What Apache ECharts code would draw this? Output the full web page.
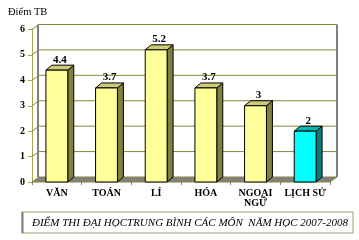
<!DOCTYPE html>
<html><head><meta charset="utf-8">
<script src="https://cdn.jsdelivr.net/npm/echarts@6/dist/echarts.min.js"></script>
<style>html,body{margin:0;padding:0;background:#fff}#c{width:359px;height:240px}</style>
</head><body><div id="c"></div>
<script>
const categories = ['VĂN', 'TOÁN', 'LÍ', 'HÓA', 'NGOẠI\nNGỮ', 'LỊCH SỬ'];
const scores = [4.4, 3.7, 5.2, 3.7, 3, 2];
const yTicks = [0, 1, 2, 3, 4, 5, 6];
const yTitle = 'Điểm TB';
const chartTitle = 'ĐIỂM THI ĐẠI HỌCTRUNG BÌNH CÁC MÔN  NĂM HỌC 2007-2008';

const FONT = '"Liberation Serif", "Times New Roman", serif';
const WDX = 7, WDY = -5;   // wall depth
const BDX = 6, BDY = -5;   // bar depth
const GRIDC = '#86863a';

const chart = echarts.init(document.getElementById('c'), null, {renderer: 'canvas'});

function wallItem(params, api) {
  const cs = params.coordSys;
  const x0 = cs.x, x1 = cs.x + cs.width;
  const ch = [];
  const yBase = api.coord([0, yTicks[0]])[1];
  const yTop = api.coord([0, yTicks[yTicks.length - 1]])[1];
  ch.push({type: 'polygon', shape: {points: [[x0, yBase], [x1, yBase], [x1 + WDX, yBase + WDY], [x0 + WDX, yBase + WDY]]},
    style: {fill: '#808080', stroke: GRIDC, lineWidth: 1}});
  yTicks.forEach(function (v) {
    const y = api.coord([0, v])[1];
    if (v !== yTicks[0]) {
      ch.push({type: 'line', shape: {x1: x0 + WDX, y1: y + WDY, x2: x1 + WDX, y2: y + WDY}, style: {stroke: GRIDC, lineWidth: 1}});
      ch.push({type: 'line', shape: {x1: x0, y1: y, x2: x0 + WDX, y2: y + WDY}, style: {stroke: GRIDC, lineWidth: 1}});
    }
  });
  ch.push({type: 'line', shape: {x1: x0 + WDX - 1, y1: yTop + WDY, x2: x0 + WDX - 1, y2: yBase + WDY}, style: {stroke: '#808080', lineWidth: 2}});
  ch.push({type: 'line', shape: {x1: x1 + WDX, y1: yTop + WDY, x2: x1 + WDX, y2: yBase + WDY}, style: {stroke: '#808080', lineWidth: 2}});
  return {type: 'group', children: ch};
}

function barItem(params, api) {
  const idx = api.value(0), val = api.value(1);
  const p0 = api.coord([idx, 0]);
  const p1 = api.coord([idx, val]);
  const w = api.size([1, 0])[0] * 0.44;
  const cx = p0[0], l = cx - w / 2, r = cx + w / 2;
  const hi = params.dataIndex === categories.length - 1;
  const face = hi ? '#00FFFF' : '#FFFF99';
  const side = hi ? '#008080' : '#808040';
  const top = hi ? '#00B8B8' : '#CCCC77';
  const st = {stroke: '#000', lineWidth: 1};
  return {type: 'group', children: [
    {type: 'polygon', shape: {points: [[r, p1[1]], [r + BDX, p1[1] + BDY], [r + BDX, p0[1] + BDY], [r, p0[1]]]}, style: Object.assign({fill: side}, st)},
    {type: 'polygon', shape: {points: [[l, p1[1]], [l + BDX, p1[1] + BDY], [r + BDX, p1[1] + BDY], [r, p1[1]]]}, style: Object.assign({fill: top}, st)},
    {type: 'rect', shape: {x: l, y: p1[1], width: w, height: p0[1] - p1[1]}, style: Object.assign({fill: face}, st)},
    {type: 'text', x: cx + BDX / 2, y: p1[1] + BDY, style: {text: String(val), fill: '#000', font: 'bold 11px ' + FONT, align: 'center', verticalAlign: 'bottom'}}
  ]};
}

chart.setOption({
  animation: false,
  backgroundColor: '#fff',
  grid: {left: 32, right: 29, top: 29.5, bottom: 58},
  xAxis: {
    type: 'category', data: categories,
    axisLine: {show: false},
    axisTick: {show: true, length: 3, lineStyle: {color: '#808080'}},
    axisLabel: {color: '#000', fontFamily: FONT, fontWeight: 'bold', fontSize: 10, lineHeight: 10, margin: 6, interval: 0}
  },
  yAxis: {
    type: 'value', min: yTicks[0], max: yTicks[yTicks.length - 1], interval: 1,
    axisLine: {show: true, lineStyle: {color: '#a8a850'}},
    axisTick: {show: true, length: 4, lineStyle: {color: '#a8a850'}},
    axisLabel: {color: '#000', fontFamily: FONT, fontWeight: 'bold', fontSize: 10, margin: 7},
    splitLine: {show: false}
  },
  graphic: [
    {type: 'text', left: 8, top: 7, style: {text: yTitle, fill: '#000', font: '10.5px ' + FONT}},
    {type: 'rect', shape: {x: 22, y: 212, width: 331, height: 21}, style: {fill: '#fff', stroke: '#a0a070', lineWidth: 1}},
    {type: 'line', shape: {x1: 22.5, y1: 212, x2: 22.5, y2: 233}, style: {stroke: '#808080', lineWidth: 2}},
    {type: 'text', x: 32, y: 223, style: {text: chartTitle, fill: '#000', font: 'italic 11px ' + FONT, verticalAlign: 'middle'}}
  ],
  series: [
    {type: 'custom', renderItem: wallItem, data: [[0, 0]], silent: true, z: 1},
    {type: 'custom', renderItem: barItem, data: scores.map(function (v, i) { return [i, v]; }), z: 2}
  ]
});
</script></body></html>
